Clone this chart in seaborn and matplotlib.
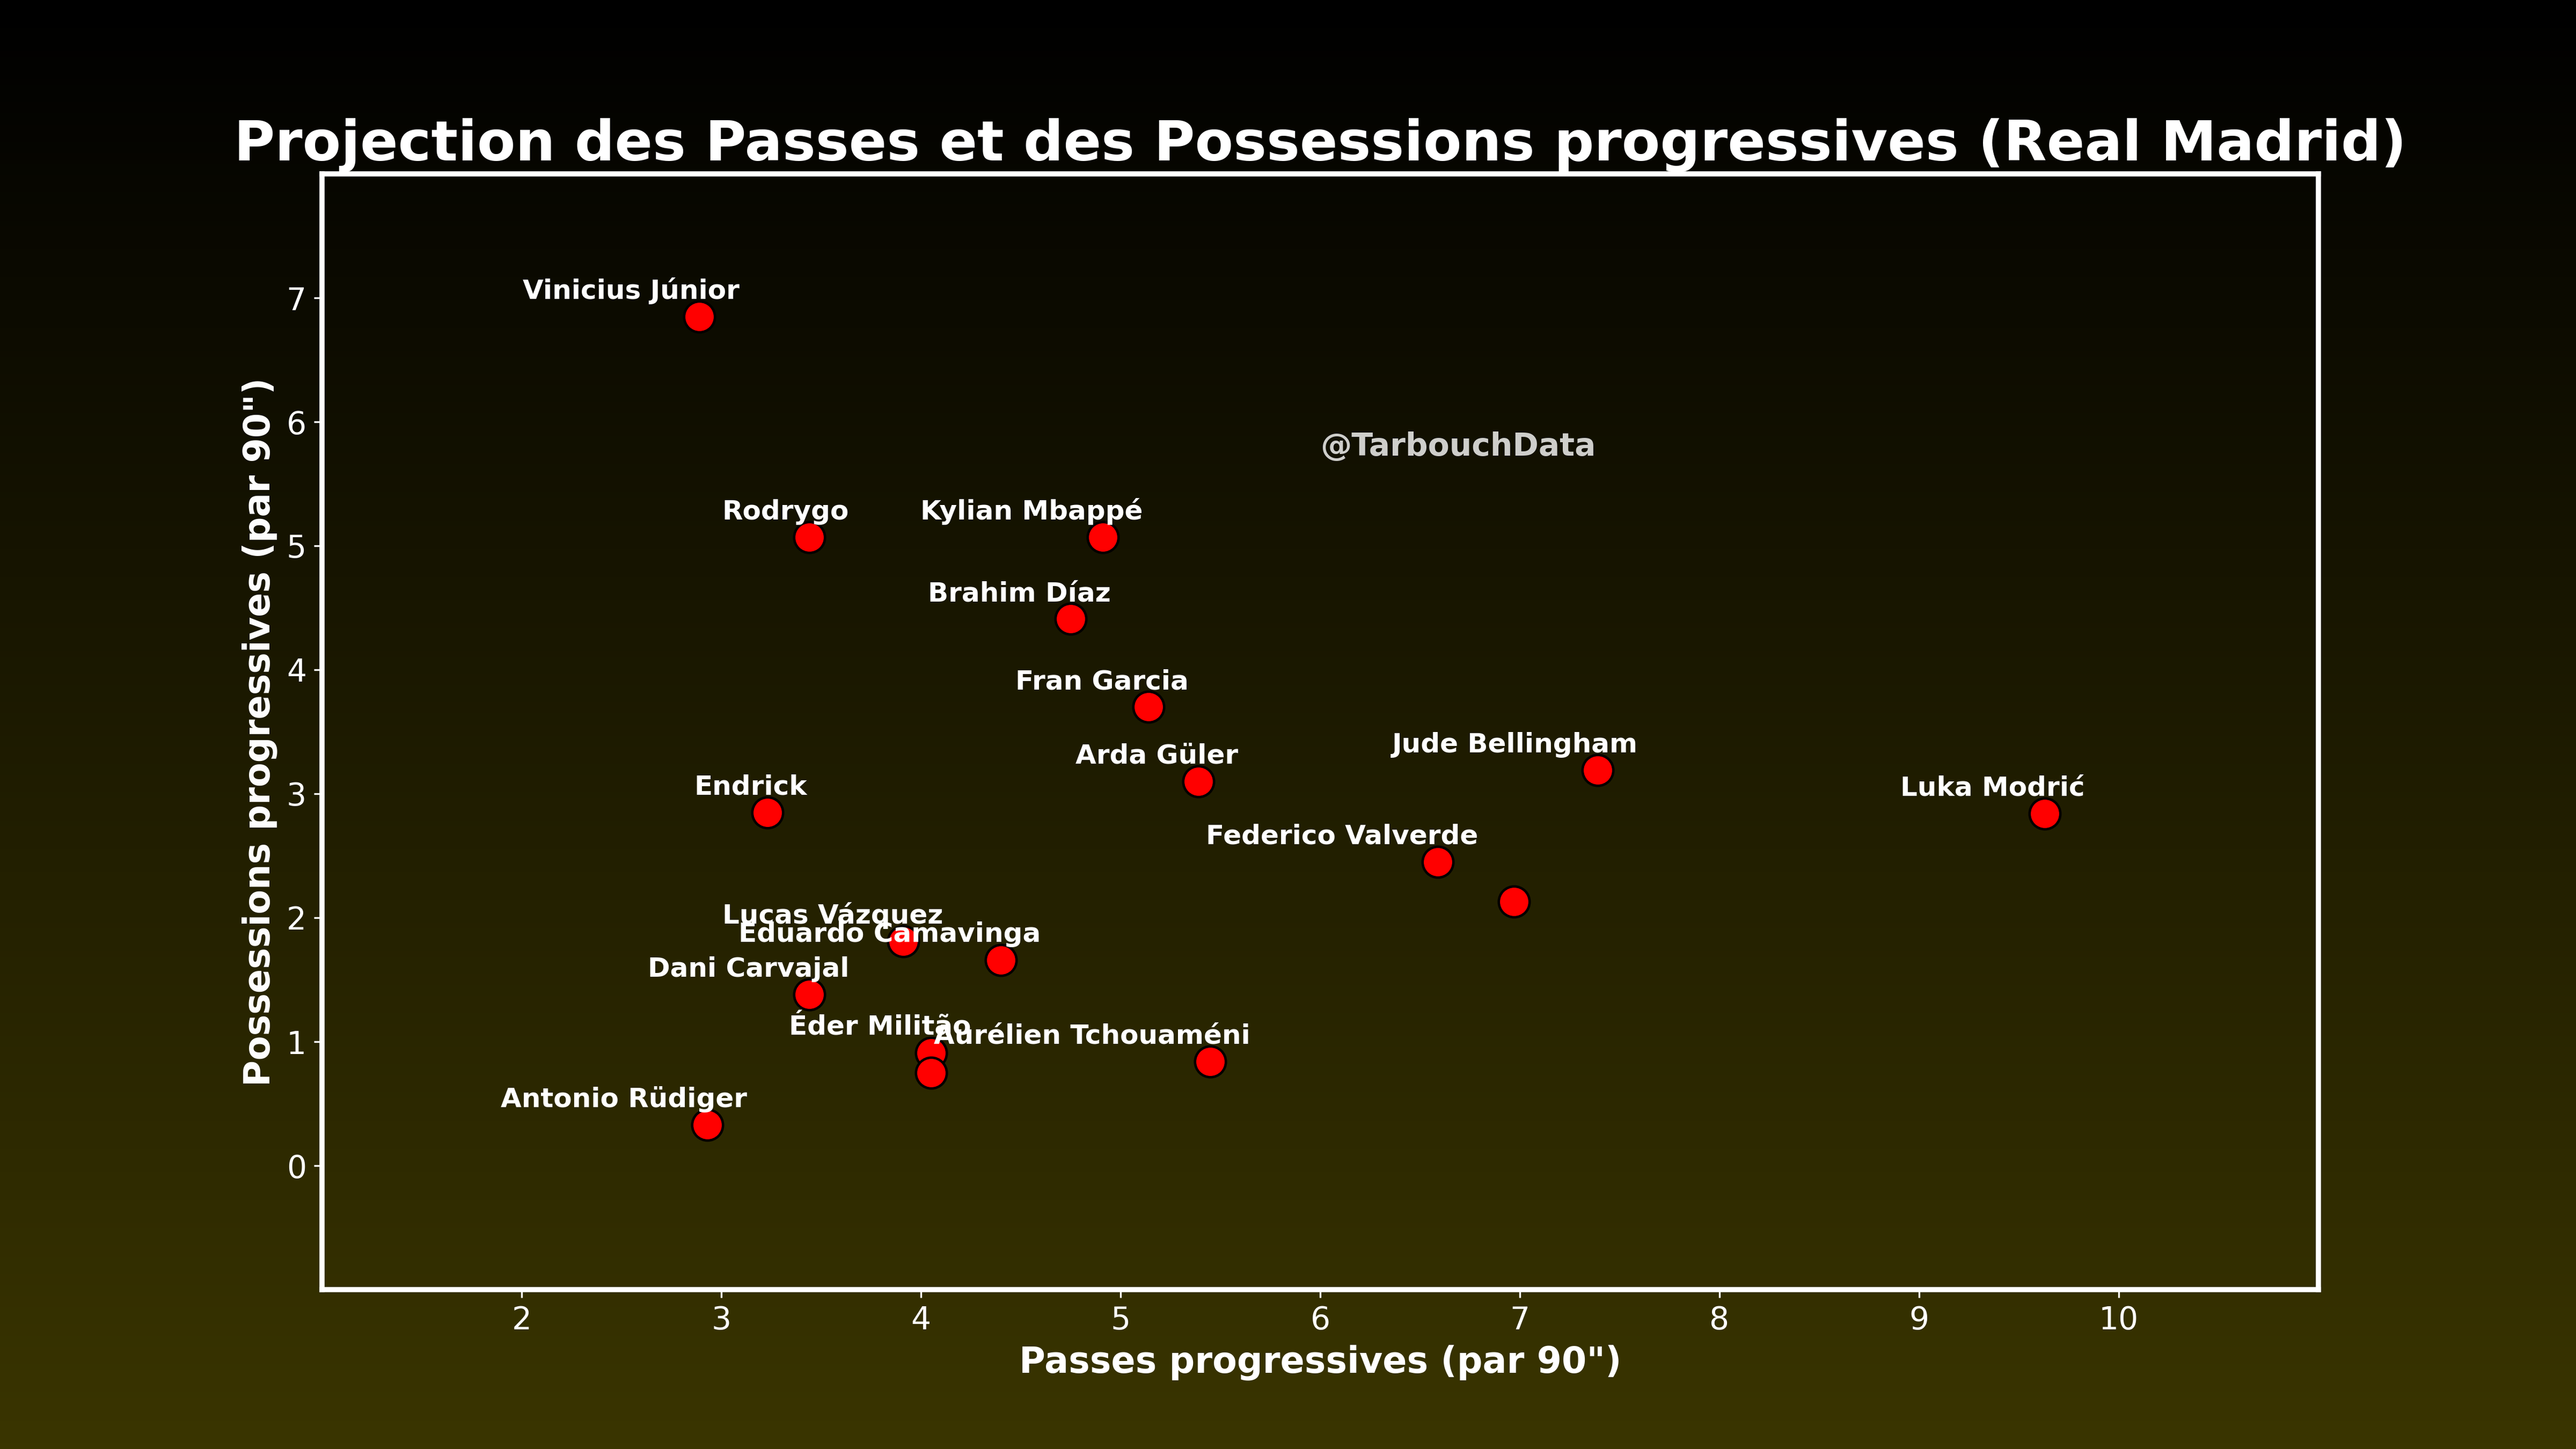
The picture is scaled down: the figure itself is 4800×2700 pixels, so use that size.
import numpy as np
import pandas as pd
import matplotlib
matplotlib.use("Agg")
import matplotlib.pyplot as plt
import seaborn as sns
from matplotlib.colors import LinearSegmentedColormap

# donnees (par 90 minutes)
players = [
    "Vinicius Júnior", "Rodrygo", "Kylian Mbappé", "Brahim Díaz", "Fran Garcia",
    "Arda Güler", "Jude Bellingham", "Luka Modrić", "Endrick", "Federico Valverde",
    "", "Lucas Vázquez", "Eduardo Camavinga", "Dani Carvajal", "Éder Militão",
    "", "Aurélien Tchouaméni", "Antonio Rüdiger",
]
prog_passes = [
    2.89, 3.44, 4.91, 4.75, 5.14,
    5.39, 7.39, 9.63, 3.23, 6.59,
    6.97, 3.91, 4.40, 3.44, 4.05,
    4.05, 5.45, 2.93,
]
prog_carries = [
    6.85, 5.07, 5.07, 4.41, 3.70,
    3.10, 3.19, 2.84, 2.85, 2.45,
    2.13, 1.81, 1.66, 1.38, 0.91,
    0.75, 0.84, 0.33,
]
x_ticks = [2, 3, 4, 5, 6, 7, 8, 9, 10]
y_ticks = [0, 1, 2, 3, 4, 5, 6, 7]

df = pd.DataFrame({
    "joueur": players,
    "passes_prog": prog_passes,
    "possessions_prog": prog_carries,
})

fig = plt.figure(figsize=(16, 9), dpi=300)

# fond en degrade noir -> olive
bg = fig.add_axes([0, 0, 1, 1], zorder=-1)
gradient = np.linspace(0, 1, 512).reshape(-1, 1)
fond_cmap = LinearSegmentedColormap.from_list("fond", ["#000000", "#3a3500"])
bg.imshow(gradient, aspect="auto", cmap=fond_cmap)
bg.axis("off")

ax = fig.add_subplot(111)
ax.set_facecolor("none")

sns.scatterplot(
    data=df,
    x="passes_prog",
    y="possessions_prog",
    s=190,
    color="red",
    edgecolor="black",
    linewidth=1.1,
    ax=ax,
)

for _, row in df.iterrows():
    if row["joueur"]:
        ax.text(
            row["passes_prog"] + 0.2,
            row["possessions_prog"] + 0.1,
            row["joueur"],
            ha="right",
            va="bottom",
            fontsize=12,
            fontweight="bold",
            color="white",
        )

ax.text(6, 5.8, "@TarbouchData", fontsize=14, fontweight="bold",
        color="white", alpha=0.8, ha="left", va="center")

ax.set_xlim(1, 11)
ax.set_ylim(-1, 8)
ax.set_xticks(x_ticks)
ax.set_yticks(y_ticks)
ax.tick_params(colors="white", labelsize=14)
for spine in ax.spines.values():
    spine.set_color("white")
    spine.set_linewidth(2.3)

ax.set_title("Projection des Passes et des Possessions progressives (Real Madrid)",
             fontsize=25, fontweight="bold", color="white")
ax.set_xlabel('Passes progressives (par 90")', fontsize=16, fontweight="bold", color="white")
ax.set_ylabel('Possessions progressives (par 90")', fontsize=16, fontweight="bold", color="white")

fig.savefig("out.png", dpi=300)
